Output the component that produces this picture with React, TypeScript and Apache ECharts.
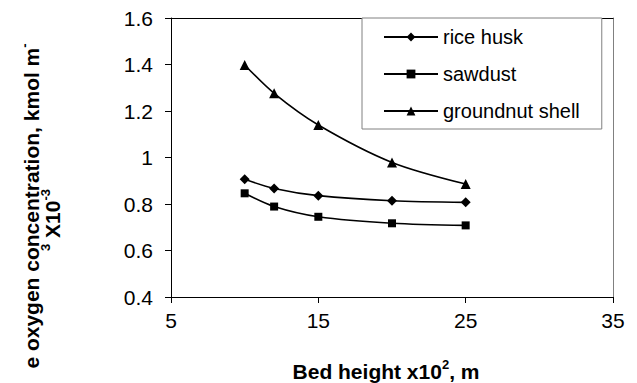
import React, { useEffect, useRef } from 'react';
import * as echarts from 'echarts';

const bedHeight = [10, 12, 15, 20, 25];
const riceHusk = [0.906, 0.867, 0.836, 0.814, 0.807];
const sawdust = [0.846, 0.789, 0.745, 0.717, 0.708];
const groundnutShell = [1.398, 1.276, 1.14, 0.979, 0.886];
const xTicks = [5, 15, 25, 35];
const seriesNames = ['rice husk', 'sawdust', 'groundnut shell'];
const yTitleLine1 = 'e oxygen concentration, kmol m';
const xTitle = 'Bed height x10';

const FONT = '"Liberation Sans", Arial, sans-serif';

export default function App() {
  const ref = useRef<HTMLDivElement>(null);
  useEffect(() => {
    const chart = echarts.init(ref.current!, null, { renderer: 'svg' });
    const pair = (ys: number[]) => bedHeight.map((x, i) => [x, ys[i]]);
    const mk = (name: string, data: number[], symbol: string, size: number) => ({
      name,
      type: 'line',
      data: pair(data),
      smooth: 0.3,
      symbol,
      symbolSize: size,
      lineStyle: { color: '#000', width: 1.6 },
      itemStyle: { color: '#000' },
      xAxisIndex: 0,
      yAxisIndex: 0,
      z: 3,
    });
    const richTitle = {
      n: { fontSize: 21, fontWeight: 'bold', fontFamily: FONT, fill: '#000', lineHeight: 26 },
      s: { fontSize: 13, fontWeight: 'bold', fontFamily: FONT, fill: '#000', lineHeight: 13, verticalAlign: 'top' },
    };
    chart.setOption({
      animation: false,
      backgroundColor: '#fff',
      grid: { left: 171, right: 24, top: 18, bottom: 86 },
      xAxis: [
        {
          type: 'value',
          min: 5,
          max: 35,
          position: 'bottom',
          axisLine: { show: true, onZero: false, lineStyle: { color: '#000', width: 1 } },
          axisTick: { show: true, inside: false, length: 6, customValues: xTicks, lineStyle: { color: '#000' } },
          axisLabel: { customValues: xTicks, color: '#000', fontSize: 21, fontFamily: FONT, margin: 13 },
          splitLine: { show: false },
        },
        {
          type: 'value',
          min: 5,
          max: 35,
          position: 'top',
          axisLine: { show: true, onZero: false, lineStyle: { color: '#000', width: 1 } },
          axisTick: { show: false },
          axisLabel: { show: false },
          splitLine: { show: false },
        },
      ],
      yAxis: [
        {
          type: 'value',
          min: 0.4,
          max: 1.6,
          interval: 0.2,
          axisLine: { show: true, onZero: false, lineStyle: { color: '#000', width: 1 } },
          axisTick: { show: true, inside: false, length: 6, lineStyle: { color: '#000' } },
          axisLabel: { color: '#000', fontSize: 21, fontFamily: FONT, margin: 18 },
          splitLine: { show: false },
        },
        {
          type: 'value',
          min: 0.4,
          max: 1.6,
          position: 'right',
          axisLine: { show: true, onZero: false, lineStyle: { color: '#808080', width: 1 } },
          axisTick: { show: false },
          axisLabel: { show: false },
          splitLine: { show: false },
        },
      ],
      legend: {
        show: true,
        orient: 'vertical',
        left: 362,
        top: 18,
        padding: [9, 22, 8, 21],
        itemWidth: 54,
        itemHeight: 11,
        itemGap: 17,
        borderColor: '#808080',
        borderWidth: 1,
        backgroundColor: '#fff',
        textStyle: { color: '#000', fontSize: 20, fontFamily: FONT, lineHeight: 20 },
        data: seriesNames,
      },
      graphic: [
        {
          type: 'text',
          x: 31,
          y: 206,
          rotation: Math.PI / 2,
          style: {
            text: `{n|${yTitleLine1}}{s|-}`,
            align: 'center',
            verticalAlign: 'middle',
            fill: '#000',
            rich: richTitle,
          },
        },
        {
          type: 'text',
          x: 52,
          y: 220,
          rotation: Math.PI / 2,
          style: {
            text: '{s|3}{n| X10}{s|-3}',
            align: 'center',
            verticalAlign: 'middle',
            fill: '#000',
            rich: richTitle,
          },
        },
        {
          type: 'text',
          x: 386,
          y: 371,
          style: {
            text: `{n|${xTitle}}{s|2}{n|, m}`,
            align: 'center',
            verticalAlign: 'middle',
            fill: '#000',
            rich: richTitle,
          },
        },
      ],
      series: [
        mk(seriesNames[0], riceHusk, 'diamond', 10),
        mk(seriesNames[1], sawdust, 'rect', 8),
        mk(seriesNames[2], groundnutShell, 'triangle', 10),
      ],
    });
    return () => chart.dispose();
  }, []);
  return <div ref={ref} style={{ position: 'absolute', left: 0, top: 0, width: 637, height: 383 }} />;
}
